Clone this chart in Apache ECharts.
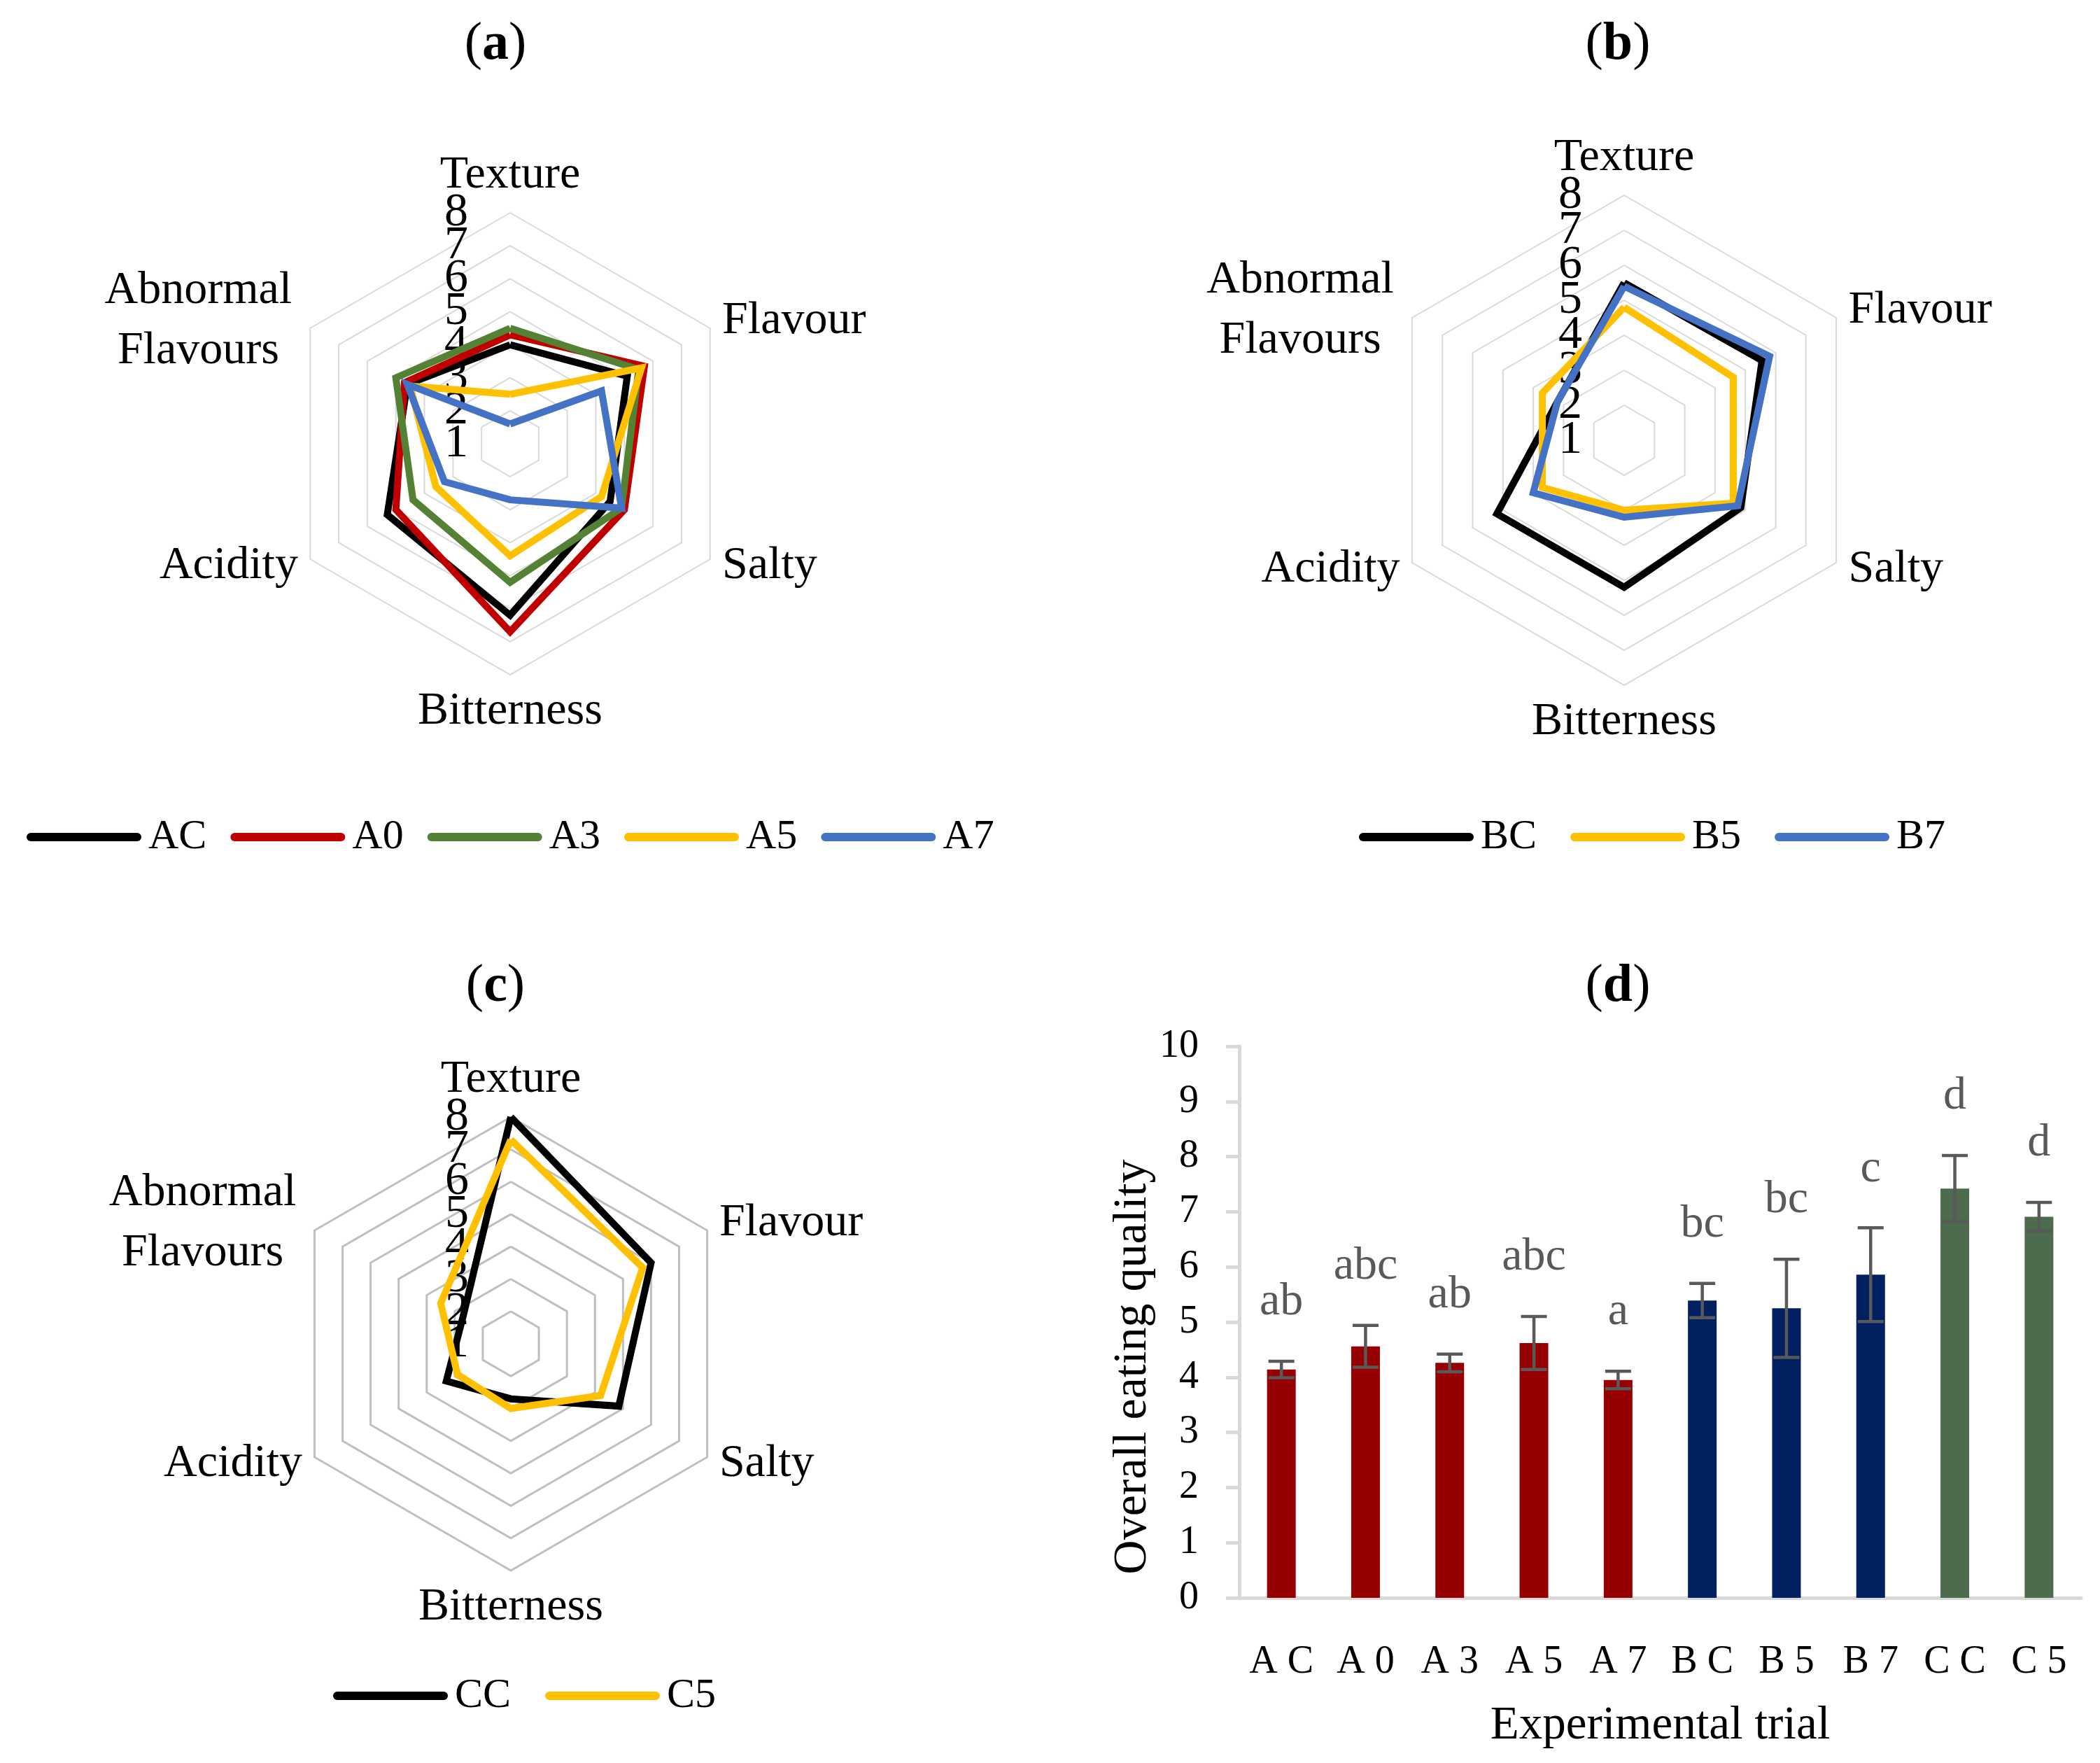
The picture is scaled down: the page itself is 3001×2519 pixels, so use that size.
<!DOCTYPE html>
<html>
<head>
<meta charset="utf-8">
<script src="https://cdn.jsdelivr.net/npm/echarts@6/dist/echarts.min.js"></script>
<style>
html,body{margin:0;padding:0;background:#ffffff;}
#chart{width:3001px;height:2519px;}
</style>
</head>
<body>
<div id="chart"></div>
<script>
// ---------------- DATA ----------------
// Sensory attributes in clockwise order starting at the top
const attributes = ['Texture', 'Flavour', 'Salty', 'Bitterness', 'Acidity', 'Abnormal\nFlavours'];
const radarMin = 1;
const radarMax = 8;

// Panel (a)
const namesA = ['AC', 'A0', 'A3', 'A5', 'A7'];
const valAC = [4.0, 5.1, 4.5, 6.2, 5.3, 4.6];
const valA0 = [4.3, 5.7, 5.0, 6.7, 5.0, 4.7];
const valA3 = [4.5, 5.5, 4.9, 5.2, 4.4, 5.0];
const valA5 = [2.5, 5.6, 4.2, 4.4, 3.6, 4.5];
const valA7 = [1.6, 4.2, 4.9, 2.7, 3.3, 4.6];

// Panel (b)
const namesB = ['BC', 'B5', 'B7'];
const valBC = [5.5, 5.55, 4.85, 5.2, 5.2, 3.2];
const valB5 = [4.8, 4.6, 4.6, 3.0, 3.7, 3.7];
const valB7 = [5.4, 5.8, 4.75, 3.2, 4.0, 3.2];

// Panel (c)
const namesC = ['CC', 'C5'];
const valCC = [8.0, 6.0, 4.85, 2.7, 3.3, 2.7];
const valC5 = [7.3, 5.7, 4.2, 3.0, 2.9, 3.5];

// Panel (d)
const trials = ['AC', 'A0', 'A3', 'A5', 'A7', 'BC', 'B5', 'B7', 'CC', 'C5'];
const trialGroup = ['A', 'A', 'A', 'A', 'A', 'B', 'B', 'B', 'C', 'C'];
const eatingQuality = [4.14, 4.56, 4.26, 4.62, 3.95, 5.39, 5.25, 5.86, 7.42, 6.91];
const eatingError = [0.15, 0.38, 0.16, 0.48, 0.16, 0.31, 0.89, 0.85, 0.60, 0.26];
const sigLetters = ['ab', 'abc', 'ab', 'abc', 'a', 'bc', 'bc', 'c', 'd', 'd'];
const yTicksD = [0, 10, 1]; // min, max, interval

// ---------------- STYLE ----------------
const FONT = '"Liberation Serif", "DejaVu Serif", serif';
const lineColors = { AC: '#000000', A0: '#C00000', A3: '#548235', A5: '#FFC000', A7: '#4472C4',
                     BC: '#000000', B5: '#FFC000', B7: '#4472C4', CC: '#000000', C5: '#FFC000' };
const groupColors = { A: '#960000', B: '#00205F', C: '#4D6B4D' };
const valuesByName = { AC: valAC, A0: valA0, A3: valA3, A5: valA5, A7: valA7,
                       BC: valBC, B5: valB5, B7: valB7, CC: valCC, C5: valC5 };

// ECharts radar places indicators counter-clockwise; reorder so the layout is clockwise.
const displayOrder = [0, 5, 4, 3, 2, 1];

function labelStyle(showEnds) {
  return { show: true, showMinLabel: showEnds, showMaxLabel: showEnds, hideOverlap: false,
           color: '#000', fontFamily: FONT, fontSize: 68, margin: 60 };
}

// Main radar: grid rings, attribute names, inner tick labels (2..7)
function makeRadar(center, radius, splitColor, splitWidth) {
  return {
    center: center,
    radius: radius,
    startAngle: 90,
    shape: 'polygon',
    splitNumber: radarMax - radarMin,
    indicator: displayOrder.map(function (k, j) {
      return { name: attributes[k], min: radarMin, max: radarMax,
               axisLabel: j === 0 ? labelStyle(false) : { show: false } };
    }),
    nameGap: 20,
    axisName: {
      color: '#000', fontFamily: FONT, fontSize: 66,
      formatter: function (name) {
        if (name.indexOf('\n') >= 0) {
          return name.split('\n').map(function (s) { return '{c|' + s + '}'; }).join('\n');
        }
        return name;
      },
      rich: { c: { width: 285, align: 'center', fontSize: 66, fontFamily: FONT, color: '#000', lineHeight: 86 } }
    },
    axisLine: { show: false },
    axisTick: { show: false },
    axisLabel: { show: false },
    splitLine: { show: true, lineStyle: { color: splitColor, width: splitWidth } },
    splitArea: { show: false }
  };
}

// Overlay radar on the same centre/radius that only carries the end tick labels (1 and 8)
function makeEndLabelRadar(center, radius) {
  return {
    center: center,
    radius: radius,
    startAngle: 90,
    shape: 'polygon',
    splitNumber: 1,
    indicator: displayOrder.map(function (k, j) {
      return { name: '', min: radarMin, max: radarMax,
               axisLabel: j === 0 ? labelStyle(true) : { show: false } };
    }),
    axisName: { show: false },
    axisLine: { show: false },
    axisTick: { show: false },
    axisLabel: { show: false },
    splitLine: { show: false },
    splitArea: { show: false }
  };
}

function radarSeries(names, radarIndex) {
  return names.map(function (n) {
    const v = valuesByName[n];
    return {
      type: 'radar',
      name: n,
      radarIndex: radarIndex,
      symbol: 'none',
      silent: true,
      lineStyle: { color: lineColors[n], width: 10, join: 'miter', miterLimit: 6 },
      itemStyle: { color: lineColors[n] },
      data: [{ name: n, value: displayOrder.map(function (k) { return v[k]; }),
               lineStyle: { color: lineColors[n], width: 10 } }]
    };
  });
}

const PILL = 'path://M6,0H158A6,6,0,0,1,158,12H6A6,6,0,0,1,6,0Z';
function makeLegend(names, left, top, gap) {
  return {
    data: names, left: left, top: top, orient: 'horizontal',
    icon: PILL, itemWidth: 164, itemHeight: 12, itemGap: gap,
    selectedMode: false,
    itemStyle: { borderWidth: 0 },
    textStyle: { fontFamily: FONT, fontSize: 60, color: '#000', padding: [0, 0, 0, 5] }
  };
}

function titleText(letter, x, y) {
  return {
    type: 'text', x: x, y: y,
    style: {
      text: '{p|(}{b|' + letter + '}{p|)}',
      align: 'center', verticalAlign: 'middle',
      rich: {
        p: { fontFamily: FONT, fontSize: 76, fill: '#000' },
        b: { fontFamily: FONT, fontSize: 76, fontWeight: 'bold', fill: '#000' }
      }
    }
  };
}

const chart = echarts.init(document.getElementById('chart'), null, { renderer: 'canvas' });

const errorData = eatingQuality.map(function (m, i) { return [i, m, eatingError[i]]; });

const centers = [[729, 634], [2321, 629], [730, 1920]];
const radii = [330, 350, 324];

const option = {
  backgroundColor: '#ffffff',
  animation: false,
  textStyle: { fontFamily: FONT },
  graphic: [
    titleText('a', 708, 64),
    titleText('b', 2312, 64),
    titleText('c', 708, 1410),
    titleText('d', 2312, 1410)
  ],
  radar: [
    makeRadar(centers[0], radii[0], '#d9d9d9', 2),
    makeRadar(centers[1], radii[1], '#d9d9d9', 2),
    makeRadar(centers[2], radii[2], '#bfbfbf', 3),
    makeEndLabelRadar(centers[0], radii[0]),
    makeEndLabelRadar(centers[1], radii[1]),
    makeEndLabelRadar(centers[2], radii[2])
  ],
  legend: [
    makeLegend(namesA, 33, 1161, 34),
    makeLegend(namesB, 1937, 1161, 48),
    makeLegend(namesC, 471, 2388, 49)
  ],
  grid: { left: 1771, right: 27, top: 1495, bottom: 236, containLabel: false },
  xAxis: {
    type: 'category',
    data: trials,
    axisLine: { show: true, lineStyle: { color: '#d9d9d9', width: 5 } },
    axisTick: { show: false },
    axisLabel: {
      color: '#000', fontFamily: FONT, fontSize: 56, margin: 64,
      formatter: function (v) { return v.split('').join(' '); }
    },
    splitLine: { show: false },
    name: 'Experimental trial',
    nameLocation: 'middle',
    nameGap: 150,
    nameTextStyle: { color: '#000', fontFamily: FONT, fontSize: 67 }
  },
  yAxis: {
    type: 'value',
    min: yTicksD[0], max: yTicksD[1], interval: yTicksD[2],
    axisLine: { show: true, lineStyle: { color: '#d9d9d9', width: 5 } },
    axisTick: { show: true, inside: false, length: 19, lineStyle: { color: '#d9d9d9', width: 5 } },
    axisLabel: { color: '#000', fontFamily: FONT, fontSize: 56, margin: 58 },
    splitLine: { show: false },
    name: 'Overall eating quality',
    nameLocation: 'middle',
    nameGap: 104,
    nameTextStyle: { color: '#000', fontFamily: FONT, fontSize: 68, padding: [0, 128, 0, 0] }
  },
  series: radarSeries(namesA, 0)
    .concat(radarSeries(namesB, 1))
    .concat(radarSeries(namesC, 2))
    .concat([
      {
        type: 'bar',
        name: 'Overall eating quality',
        barWidth: 41,
        silent: true,
        data: eatingQuality.map(function (v, i) {
          return { value: v, itemStyle: { color: groupColors[trialGroup[i]] } };
        }),
        z: 2
      },
      {
        type: 'custom',
        name: 'error',
        silent: true,
        z: 5,
        data: errorData,
        renderItem: function (params, api) {
          const idx = api.value(0);
          const m = api.value(1);
          const e = api.value(2);
          const top = api.coord([idx, m + e]);
          const bot = api.coord([idx, m - e]);
          const half = 18.5;
          const st = { stroke: '#595959', lineWidth: 4.5 };
          return {
            type: 'group',
            children: [
              { type: 'line', shape: { x1: top[0], y1: top[1], x2: bot[0], y2: bot[1] }, style: st },
              { type: 'line', shape: { x1: top[0] - half, y1: top[1], x2: top[0] + half, y2: top[1] }, style: st },
              { type: 'line', shape: { x1: bot[0] - half, y1: bot[1], x2: bot[0] + half, y2: bot[1] }, style: st },
              { type: 'text', x: top[0], y: top[1] - 84,
                style: { text: sigLetters[params.dataIndex], align: 'center', verticalAlign: 'middle',
                         fontFamily: FONT, fontSize: 66, fill: '#595959' } }
            ]
          };
        }
      }
    ])
};

chart.setOption(option);
</script>
</body>
</html>
